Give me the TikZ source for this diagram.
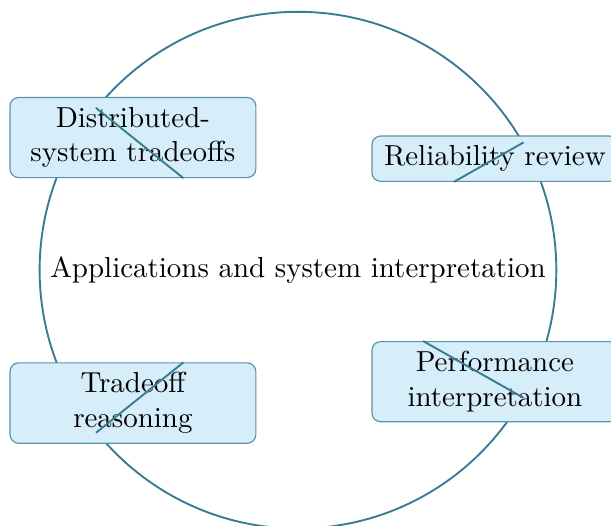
\documentclass[tikz,border=0pt]{standalone}
\usetikzlibrary{positioning}
\definecolor{tealline}{HTML}{3A7B92}
\definecolor{boxline}{HTML}{5A94A8}
\definecolor{boxfill}{HTML}{D6EEF9}
\tikzset{
  hub/.style={circle, draw=tealline, line width=0.65pt, inner sep=0.3333em},
  topicbox/.style={rectangle, rounded corners=3pt, draw=boxline, line width=0.4pt, fill=boxfill,
    text width=2.75cm, align=center, inner sep=0.3333em},
  link/.style={draw=tealline, line width=0.65pt}
}
\begin{document}
\begin{tikzpicture}
\useasboundingbox (-102.9pt,-88.1pt) rectangle (108.1pt,93.3pt);
\node[hub] (c) at (0,0) {Applications and system interpretation};
\node[topicbox] (tl) at (-57.0pt,45.8pt) {Distributed-system tradeoffs};
\node[topicbox] (tr) at (68.0pt,38.5pt) {Reliability review};
\node[topicbox] (br) at (68.0pt,-38.5pt) {Performance interpretation};
\node[topicbox] (bl) at (-57.0pt,-45.9pt) {Tradeoff reasoning};
\draw[link] (c) -- (tl);
\draw[link] (c) -- (tr);
\draw[link] (c) -- (br);
\draw[link] (c) -- (bl);
\end{tikzpicture}
\end{document}
